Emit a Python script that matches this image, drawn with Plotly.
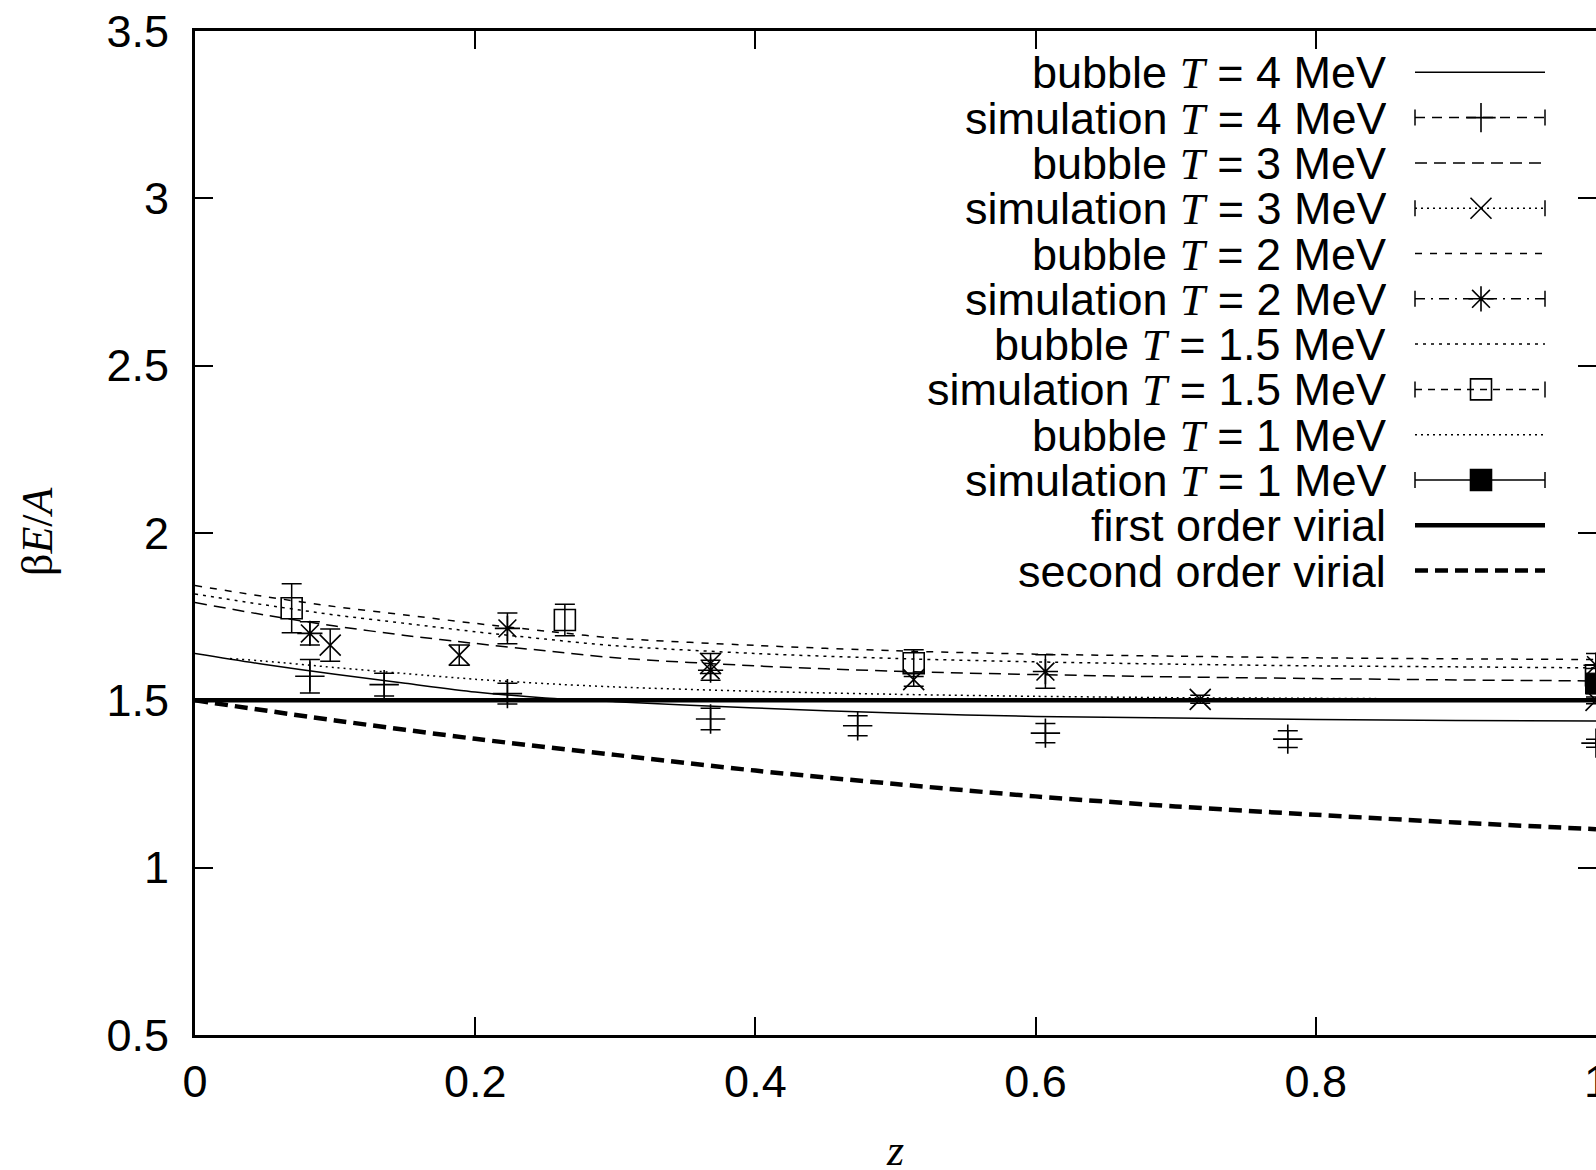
import plotly.graph_objects as go

# ---------------- data ----------------
z_curve = [0.0, 0.05, 0.1, 0.15, 0.2, 0.25, 0.3, 0.4, 0.5, 0.6, 0.7, 0.8, 0.9, 1.0]
bubble_T4 = [1.640, 1.607, 1.578, 1.551, 1.525, 1.507, 1.496, 1.477, 1.462, 1.452, 1.447, 1.443, 1.440, 1.438]
bubble_T3 = [1.792, 1.755, 1.722, 1.694, 1.670, 1.648, 1.627, 1.603, 1.587, 1.577, 1.570, 1.565, 1.561, 1.558]
bubble_T2 = [1.843, 1.810, 1.780, 1.755, 1.730, 1.707, 1.686, 1.664, 1.648, 1.638, 1.632, 1.627, 1.624, 1.622]
bubble_T15 = [1.818, 1.785, 1.755, 1.730, 1.705, 1.683, 1.663, 1.640, 1.625, 1.615, 1.608, 1.603, 1.600, 1.597]
z_curve_T1 = [0.025, 0.05, 0.1, 0.15, 0.2, 0.25, 0.3, 0.4, 0.5, 0.6, 0.7, 0.8, 0.9, 1.0]
bubble_T1 = [1.625, 1.617, 1.598, 1.580, 1.563, 1.550, 1.540, 1.527, 1.518, 1.512, 1.508, 1.506, 1.504, 1.503]

z_virial = [0.0, 1.0]
first_virial = [1.5, 1.5]
z_virial2 = [0.0, 0.1, 0.2, 0.3, 0.4, 0.5, 0.6, 0.7, 0.8, 0.9, 1.0]
second_virial = [1.5, 1.44, 1.385, 1.337, 1.290, 1.250, 1.213, 1.183, 1.158, 1.135, 1.115]

sim_T4_z = [0.082, 0.135, 0.223, 0.368, 0.473, 0.607, 0.780, 1.0]
sim_T4_y = [1.572, 1.547, 1.520, 1.444, 1.424, 1.402, 1.384, 1.372]
sim_T4_e = [0.050, 0.034, 0.031, 0.032, 0.030, 0.029, 0.025, 0.012]

sim_T3_z = [0.0965, 0.1886, 0.368, 0.513, 0.7175, 1.0]
sim_T3_y = [1.665, 1.635, 1.610, 1.562, 1.503, 1.500]
sim_T3_e = [0.048, 0.030, 0.030, 0.020, 0.012, 0.010]

sim_T2_z = [0.082, 0.223, 0.368, 0.607, 1.0]
sim_T2_y = [1.700, 1.715, 1.590, 1.586, 1.605]
sim_T2_e = [0.035, 0.046, 0.030, 0.050, 0.035]

sim_T15_z = [0.069, 0.264, 0.513, 1.0]
sim_T15_y = [1.775, 1.740, 1.611, 1.575]
sim_T15_e = [0.073, 0.047, 0.040, 0.020]

sim_T1_z = [1.0]
sim_T1_y = [1.550]
sim_T1_e = [0.020]

x_ticks = [0, 0.2, 0.4, 0.6, 0.8]
x_ticklabels = ["0", "0.2", "0.4", "0.6", "0.8"]
x_last_tick = 1.0
x_last_ticklabel = "1"
y_ticks = [0.5, 1.0, 1.5, 2.0, 2.5, 3.0, 3.5]
y_ticklabels = ["0.5", "1", "1.5", "2", "2.5", "3", "3.5"]

legend_labels = [
    "bubble <i>T</i> = 4 MeV",
    "simulation <i>T</i> = 4 MeV",
    "bubble <i>T</i> = 3 MeV",
    "simulation <i>T</i> = 3 MeV",
    "bubble <i>T</i> = 2 MeV",
    "simulation <i>T</i> = 2 MeV",
    "bubble <i>T</i> = 1.5 MeV",
    "simulation <i>T</i> = 1.5 MeV",
    "bubble <i>T</i> = 1 MeV",
    "simulation <i>T</i> = 1 MeV",
    "first order virial",
    "second order virial",
]

# ---------------- styles ----------------
SANS = "Liberation Sans, Arial, sans-serif"
SERIF = "Liberation Serif"
FS = 45
W, H = 1596, 1170
ML, MR, MT, MB = 195, 0, 31, 135

DASH_T3 = "12px,7px"
DASH_T2 = "7px,8px"
DASH_T15 = "3px,5px"
DASH_T1 = "2px,4px"
DASH_SIM4 = "10px,7px"
DASH_SIM3 = "2px,4px"
DASH_SIM2 = "10px,6px,2px,6px"
DASH_SIM15 = "7px,6px"
DASH_V2 = "13px,7px"

fig = go.Figure()


def curve(x, y, width, dash):
    fig.add_trace(go.Scatter(x=x, y=y, mode="lines", showlegend=False, hoverinfo="skip",
                             line=dict(color="black", width=width, dash=dash, shape="spline", smoothing=0.8)))


curve(z_curve, bubble_T4, 1.5, "solid")
curve(z_curve, bubble_T3, 1.5, DASH_T3)
curve(z_curve, bubble_T2, 1.5, DASH_T2)
curve(z_curve, bubble_T15, 1.5, DASH_T15)
curve(z_curve_T1, bubble_T1, 1.5, DASH_T1)
curve(z_virial, first_virial, 4.5, "solid")
curve(z_virial2, second_virial, 4.5, DASH_V2)


def sim(x, y, e, symbol, lw=1.6):
    fig.add_trace(go.Scatter(x=x, y=y, mode="markers", showlegend=False, hoverinfo="skip",
                             marker=dict(symbol=symbol, size=21, color="black",
                                         line=dict(color="black", width=lw)),
                             error_y=dict(type="data", array=e, visible=True, color="black",
                                          thickness=1.5, width=10)))


sim(sim_T4_z, sim_T4_y, sim_T4_e, "cross-thin-open")
sim(sim_T3_z, sim_T3_y, sim_T3_e, "x-thin-open")
sim(sim_T2_z, sim_T2_y, sim_T2_e, "asterisk-open")
sim(sim_T15_z, sim_T15_y, sim_T15_e, "square-open")
sim(sim_T1_z, sim_T1_y, sim_T1_e, "square", lw=1)

# ---------------- hand-made key (gnuplot style) ----------------
plot_w = W - ML - MR
plot_h = H - MT - MB
row0_px, row_step_px = 72.3, 45.3
text_right_px = 1388
line_x0_px, line_x1_px, marker_px = 1415, 1545, 1481


def px_to_paper_x(px):
    return (px - ML) / plot_w


def px_to_paper_y(py):
    return (H - MB - py) / plot_h


key_styles = [
    (1.5, "solid", None),
    (1.5, DASH_SIM4, "cross-thin-open"),
    (1.5, DASH_T3, None),
    (1.5, DASH_SIM3, "x-thin-open"),
    (1.5, DASH_T2, None),
    (1.5, DASH_SIM2, "asterisk-open"),
    (1.5, DASH_T15, None),
    (1.5, DASH_SIM15, "square-open"),
    (1.5, DASH_T1, None),
    (1.5, "solid", "square"),
    (4.5, "solid", None),
    (4.5, DASH_V2, None),
]

shapes = []
annotations = []
key_mx, key_my, key_sym = [], [], []
x0p, x1p = px_to_paper_x(line_x0_px), px_to_paper_x(line_x1_px)
for i, (label, (lw, dash, sym)) in enumerate(zip(legend_labels, key_styles)):
    yp = px_to_paper_y(row0_px + i * row_step_px)
    label_html = label.replace("<i>T</i>", "<span style=\"font-family:Liberation Serif\"><i>T</i></span>")
    annotations.append(dict(x=px_to_paper_x(text_right_px), y=yp, xref="paper", yref="paper",
                            xanchor="right", yanchor="middle", showarrow=False, text=label_html,
                            height=40, valign="middle",
                            font=dict(family=SANS, size=FS, color="black")))
    shapes.append(dict(type="line", xref="paper", yref="paper", x0=x0p, x1=x1p, y0=yp, y1=yp,
                       line=dict(color="black", width=lw, dash=dash)))
    if sym is not None:
        key_mx.append(px_to_paper_x(marker_px))
        key_my.append(yp)
        key_sym.append(sym)
        cap = 8 / plot_h
        for xc in (x0p, x1p):
            shapes.append(dict(type="line", xref="paper", yref="paper", x0=xc, x1=xc,
                               y0=yp - cap, y1=yp + cap, line=dict(color="black", width=1.5)))

fig.add_trace(go.Scatter(x=key_mx, y=key_my, xaxis="x2", yaxis="y2", mode="markers",
                         showlegend=False, hoverinfo="skip",
                         marker=dict(symbol=key_sym, size=21, color="black",
                                     line=dict(color="black", width=1.6))))

# last x tick label, partly outside the page as in the original
annotations.append(dict(x=x_last_tick, y=px_to_paper_y(1081), xref="x", yref="paper",
                        xanchor="center", yanchor="middle", showarrow=False, text=x_last_ticklabel,
                        font=dict(family=SANS, size=FS, color="black")))

# axis titles
annotations.append(dict(x=px_to_paper_x(37), y=px_to_paper_y(531), xref="paper", yref="paper",
                        xanchor="center", yanchor="middle", textangle=-90, showarrow=False,
                        text="β<i>E</i>/<i>A</i>", font=dict(family=SERIF, size=44, color="black")))
annotations.append(dict(x=px_to_paper_x(895), y=px_to_paper_y(1150), xref="paper", yref="paper",
                        xanchor="center", yanchor="middle", showarrow=False, height=34,
                        text="<i>z</i>", font=dict(family=SERIF, size=44, color="black")))

axis_common = dict(showgrid=False, zeroline=False, showline=True, linecolor="black", linewidth=3,
                   mirror="ticks", ticks="inside", ticklen=18, tickwidth=2, tickcolor="black",
                   tickfont=dict(family=SANS, size=FS, color="black"), automargin=False)

fig.update_layout(
    width=W, height=H,
    margin=dict(l=ML, r=MR, t=MT, b=MB, pad=0),
    paper_bgcolor="white", plot_bgcolor="white",
    showlegend=False,
    xaxis=dict(range=[0, 1], tickmode="array", tickvals=x_ticks + [x_last_tick],
               ticktext=x_ticklabels + [""], ticklabelstandoff=5, **axis_common),
    yaxis=dict(range=[0.5, 3.5], tickmode="array", tickvals=y_ticks, ticktext=y_ticklabels,
               ticklabelstandoff=14, **axis_common),
    xaxis2=dict(overlaying="x", range=[0, 1], visible=False),
    yaxis2=dict(overlaying="y", range=[0, 1], visible=False),
    shapes=shapes,
    annotations=annotations,
)

fig.write_html("out.html")
